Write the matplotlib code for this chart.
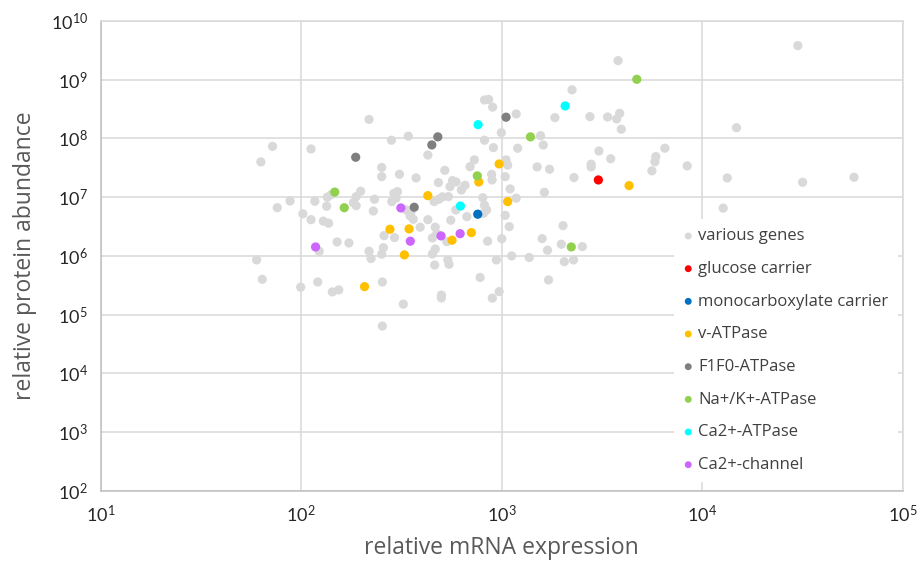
"""Scatter of relative protein abundance vs relative mRNA expression"""
import math

import matplotlib
matplotlib.use('Agg')
import matplotlib.pyplot as plt
from matplotlib.ticker import LogLocator, FuncFormatter

# various genes (light grey)
gene_mrna = [
    3.8e3, 2.24e3, 8.2e2, 8.6e2, 9.0e2, 1.18e3, 2.18e2, 1.84e3, 2.75e3, 3.37e3,
    3.87e3, 3.74e3, 3.94e3, 9.95e2, 2.82e2, 3.42e2, 8.2e2, 9.08e2, 1.2e3, 1.56e3,
    1.61e3, 72, 112, 63, 4.28e2, 3.05e3, 3.49e3, 7.3e2, 6.95e2, 1.05e3,
    1.07e3, 2.52e2, 2.52e2, 5.2e2, 3.09e2, 3.74e2, 8.9e2, 8.95e2, 1.04e3, 1.5e3,
    1.73e3, 2.79e3, 2.79e3, 2.29e3, 4.83e2, 5.68e2, 5.92e2, 5.52e2, 6.56e2, 6.29e2,
    1.1e3, 1.63e3, 1.98e2, 1.88e2, 1.82e2, 1.88e2, 2.9e2, 3.02e2, 2.83e2, 2.97e2,
    2.32e2, 2.29e2, 1.35e2, 1.41e2, 1.17e2, 88, 76, 1.34e2, 1.02e2, 1.12e2,
    1.29e2, 1.37e2, 4.85e2, 4.6e2, 5.06e2, 5.42e2, 8.04e2, 8.2e2, 8.4e2, 8.1e2,
    5.9e2, 6.7e2, 1.18e3, 3.34e2, 3.52e2, 3.62e2, 3.49e2, 4.28e2, 5.57e2, 3.92e2,
    4.66e2, 1.04e3, 1.09e3, 2.02e3, 2.59e2, 2.92e2, 1.51e2, 1.73e2, 1.23e2, 4.51e2,
    4.74e2, 5.32e2, 8.5e2, 1.0e3, 1.59e3, 1.69e3, 1.98e3, 2.52e3, 2.18e2, 2.23e2,
    2.52e2, 2.57e2, 4.66e2, 4.51e2, 4.63e2, 5.38e2, 5.46e2, 9.4e2, 1.12e3, 1.37e3,
    2.05e3, 2.28e3, 60, 64, 99.5, 1.21e2, 1.43e2, 1.54e2, 2.54e2, 7.8e2,
    1.71e3, 3.23e2, 5.0e2, 5.0e2, 8.97e2, 9.7e2, 2.54e2, 5.86e3, 5.8e3, 5.6e3,
    2.99e4, 1.48e4, 6.5e3, 8.4e3, 1.33e4, 3.16e4, 5.7e4, 1.27e4,
]
gene_protein = [
    2.1e9, 6.7e8, 4.5e8, 4.6e8, 3.4e8, 2.6e8, 2.1e8, 2.25e8, 2.34e8, 2.31e8,
    2.67e8, 2.14e8, 1.43e8, 1.25e8, 9.3e7, 1.09e8, 9.3e7, 6.95e7, 6.8e7, 1.11e8,
    7.7e7, 7.3e7, 6.6e7, 3.97e7, 5.2e7, 6.1e7, 4.5e7, 4.3e7, 3.3e7, 4.3e7,
    3.5e7, 3.2e7, 2.23e7, 2.86e7, 2.45e7, 2.12e7, 2.45e7, 1.96e7, 2.23e7, 3.27e7,
    2.98e7, 3.63e7, 3.27e7, 2.15e7, 1.77e7, 1.91e7, 1.81e7, 1.51e7, 1.59e7, 1.32e7,
    1.38e7, 1.21e7, 1.26e7, 1.02e7, 8.06e6, 7.16e6, 1.16e7, 1.24e7, 8.4e6, 9.6e6,
    9.2e6, 5.8e6, 9.96e6, 1.1e7, 8.5e6, 8.6e6, 6.6e6, 7.0e6, 5.2e6, 4.14e6,
    3.9e6, 3.6e6, 9.2e6, 8.4e6, 1.01e7, 1.02e7, 9.8e6, 7.3e6, 6.05e6, 5.3e6,
    6.05e6, 4.66e6, 9.6e6, 6.05e6, 5.4e6, 4.2e6, 4.8e6, 4.14e6, 4.05e6, 3.08e6,
    3.08e6, 4.9e6, 3.15e6, 3.27e6, 2.21e6, 2.05e6, 1.73e6, 1.66e6, 1.2e6, 2.02e6,
    2.37e6, 1.75e6, 1.78e6, 1.96e6, 1.97e6, 1.25e6, 1.58e6, 1.44e6, 1.2e6, 9.0e5,
    1.07e6, 1.38e6, 1.31e6, 1.08e6, 7.0e5, 8.55e5, 7.2e5, 8.55e5, 1.0e6, 9.4e5,
    8.0e5, 8.55e5, 8.55e5, 4.0e5, 2.94e5, 3.6e5, 2.44e5, 2.64e5, 3.6e5, 4.3e5,
    3.9e5, 1.51e5, 2.15e5, 1.93e5, 1.91e5, 2.47e5, 6.4e4, 4.9e7, 4.0e7, 2.8e7,
    3.78e9, 1.52e8, 6.8e7, 3.4e7, 2.12e7, 1.79e7, 2.18e7, 6.5e6,
]

glucose_mrna = [3.03e3]
glucose_protein = [1.96e7]

monocarb_mrna = [7.59e2]
monocarb_protein = [5.12e6]

vatpase_mrna = [9.7e2, 7.68e2, 4.28e2, 1.07e3, 4.31e3, 2.77e2, 3.45e2, 7.05e2, 5.65e2, 3.27e2, 2.07e2]
vatpase_protein = [3.67e7, 1.81e7, 1.06e7, 8.4e6, 1.57e7, 2.84e6, 2.88e6, 2.49e6, 1.85e6, 1.04e6, 3.0e5]

f1f0_mrna = [1.05e3, 4.8e2, 4.48e2, 1.87e2, 3.66e2]
f1f0_protein = [2.29e8, 1.06e8, 7.73e7, 4.77e7, 6.73e6]

nak_mrna = [4.71e3, 1.39e3, 7.55e2, 1.47e2, 1.64e2, 2.22e3]
nak_protein = [1.01e9, 1.06e8, 2.3e7, 1.22e7, 6.6e6, 1.42e6]

ca_atpase_mrna = [2.07e3, 7.62e2, 6.22e2]
ca_atpase_protein = [3.56e8, 1.71e8, 7.06e6]

ca_channel_mrna = [3.14e2, 1.18e2, 3.5e2, 4.98e2, 6.2e2]
ca_channel_protein = [6.55e6, 1.42e6, 1.78e6, 2.19e6, 2.39e6]

series = [
    ('various genes', gene_mrna, gene_protein, '#D9D9D9'),
    ('glucose carrier', glucose_mrna, glucose_protein, '#FF0000'),
    ('monocarboxylate carrier', monocarb_mrna, monocarb_protein, '#0070C0'),
    ('v-ATPase', vatpase_mrna, vatpase_protein, '#FFC000'),
    ('F1F0-ATPase', f1f0_mrna, f1f0_protein, '#7F7F7F'),
    ('Na+/K+-ATPase', nak_mrna, nak_protein, '#92D050'),
    ('Ca2+-ATPase', ca_atpase_mrna, ca_atpase_protein, '#00FFFF'),
    ('Ca2+-channel', ca_channel_mrna, ca_channel_protein, '#CC66FF'),
]

GRID = '#D9D9D9'

fig = plt.figure(figsize=(9.19, 5.62), dpi=100)
ax = fig.add_axes([0.1094, 0.1263, 0.8732, 0.8367])

for label, xs, ys, color in series:
    ax.scatter(xs, ys, s=44, color=color, edgecolors='none', label=label, zorder=3)

ax.set_xscale('log')
ax.set_yscale('log')
ax.set_xlim(1e1, 1e5)
ax.set_ylim(1e2, 1e10)
ax.xaxis.set_major_locator(LogLocator(base=10, numticks=10))
ax.yaxis.set_major_locator(LogLocator(base=10, numticks=20))
ax.xaxis.set_minor_locator(plt.NullLocator())
ax.yaxis.set_minor_locator(plt.NullLocator())
fmt = FuncFormatter(lambda v, pos: r'$\mathregular{10^{%d}}$' % round(math.log10(v)))
ax.xaxis.set_major_formatter(fmt)
ax.yaxis.set_major_formatter(fmt)

ax.grid(True, color=GRID, linewidth=1.1, zorder=0)
ax.set_axisbelow(True)
for sp in ax.spines.values():
    sp.set_color(GRID)
    sp.set_linewidth(1.1)
    sp.set_zorder(6)
ax.spines['left'].set_color('#BFBFBF')
ax.spines['bottom'].set_color('#BFBFBF')

ax.tick_params(length=0, labelsize=13, labelcolor='#262626', pad=9)
for lab in ax.get_xticklabels() + ax.get_yticklabels():
    lab.set_fontfamily('Lato')

ax.set_xlabel('relative mRNA expression', fontsize=16.5, color='#595959',
              family='Open Sans', labelpad=8)
ax.set_ylabel('relative protein abundance', fontsize=16.5, color='#595959',
              family='Open Sans', labelpad=10)

leg = ax.legend(loc='upper left', bbox_to_anchor=(0.7147, 0.578), frameon=True,
                fancybox=False, framealpha=1, edgecolor='none', facecolor='white',
                prop={'family': 'Open Sans', 'size': 12}, labelspacing=1.0,
                handletextpad=0.3, markerscale=0.75, borderpad=0.55,
                handlelength=0.6, scatterpoints=1, borderaxespad=0)
for t in leg.get_texts():
    t.set_color('#404040')

fig.savefig('out.png', dpi=100)
